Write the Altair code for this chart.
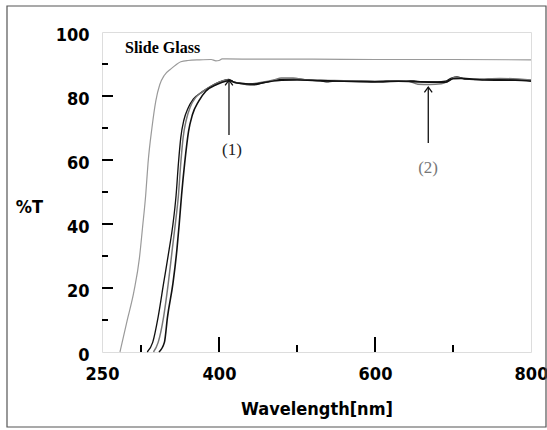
import altair as alt
import pandas as pd

# ---- data ----
slide_nm = [273, 282, 291, 298, 302, 306, 309, 314, 319, 324, 330, 338, 345, 351, 360, 375, 390, 396, 400, 404, 410, 450, 520, 600, 700, 800]
slide_T = [0, 9.6, 19, 29.4, 39, 49, 59, 70, 78.5, 83.5, 86.5, 88.4, 89.8, 90.7, 91.1, 91.3, 91.4, 91.0, 91.1, 91.6, 91.6, 91.5, 91.5, 91.4, 91.4, 91.3]

s1_nm = [308, 315, 322, 329, 336, 341, 345, 348, 351, 355, 360, 367, 378, 390, 400, 407, 412, 418, 425, 435, 445, 455, 465, 480, 500, 515, 530, 540, 550, 580, 600, 620, 650, 660, 680, 690, 698, 705, 715, 740, 770, 800]
s1_T = [0, 3, 11, 21.5, 31.9, 40, 49, 59, 67, 72.5, 76, 79, 81.2, 83.1, 84.3, 84.9, 85.2, 84.5, 84.0, 83.6, 83.5, 84.0, 84.6, 85.2, 85.3, 85.0, 84.7, 84.4, 84.7, 84.7, 84.5, 84.8, 84.7, 84.4, 84.4, 84.6, 85.6, 86.0, 85.3, 85.1, 85.2, 84.9]

s2_nm = [316, 322, 329, 335, 340, 344, 348, 351, 354, 358, 363, 370, 380, 392, 402, 410, 414, 420, 428, 440, 455, 470, 480, 495, 510, 530, 560, 600, 640, 655, 670, 685, 695, 702, 710, 730, 760, 800]
s2_T = [0, 3, 11, 21.5, 31.9, 40, 49, 59, 67, 72.5, 76.5, 79.5, 81.5, 83.3, 84.5, 85.0, 84.8, 84.3, 84.0, 83.8, 84.3, 85.0, 85.6, 85.6, 85.1, 84.9, 84.8, 84.6, 84.8, 83.7, 83.6, 83.8, 84.8, 85.8, 85.6, 85.3, 85.5, 85.0]

s3_nm = [323, 330, 334, 341, 346, 349, 352, 356, 361, 366, 374, 383, 397, 410, 415, 420, 430, 445, 460, 480, 500, 530, 560, 600, 630, 660, 690, 700, 710, 740, 780, 800]
s3_T = [0, 3, 11, 21.5, 31.9, 40, 49, 59, 69, 74.2, 78.4, 81.5, 83.6, 84.7, 84.8, 84.2, 83.9, 83.7, 84.3, 84.9, 85.0, 84.8, 84.6, 84.4, 84.6, 84.4, 84.3, 85.4, 85.5, 85.0, 84.9, 84.6]

series_names = ["Slide Glass", "S1", "S2", "S3"]
series_colors = ["#9a9a9a", "#111111", "#777777", "#111111"]
series_widths = [1.2, 1.6, 1.4, 1.6]

y_major_ticks = [20, 40, 60, 80]
y_minor_ticks = [10, 30, 50, 70, 90]
x_major_ticks = [400, 600]
x_minor_ticks = [300, 500, 700]
x_label_values = [250, 400, 600, 800]
y_label_values = [0, 20, 40, 60, 80, 100]

arrow_nm = [412.8, 668.3]
arrow_lo = [67.8, 65.3]
arrow_hi = [85.0, 82.8]
ann_text = ["(1)", "(2)"]
ann_nm = [416.7, 668.0]
ann_T = [63.1, 57.5]
ann_color = ["#222222", "#777777"]

SANS = "'DejaVu Sans Condensed', 'Liberation Sans Narrow', 'DejaVu Sans', sans-serif"

# ---- build tables ----
rows = []
for name, xs, ys in zip(series_names, [slide_nm, s1_nm, s2_nm, s3_nm], [slide_T, s1_T, s2_T, s3_T]):
    for i, (a, b) in enumerate(zip(xs, ys)):
        rows.append({"series": name, "nm": a, "T": b, "order": i})
df = pd.DataFrame(rows)

X = alt.X("nm:Q", scale=alt.Scale(domain=[250, 800], nice=False, zero=False),
          axis=alt.Axis(values=x_label_values, title="Wavelength[nm]", grid=False, domain=False,
                        ticks=False, tickSize=0, labelPadding=13, labelFontSize=18,
                        labelFont=SANS, labelFontWeight="bold", labelColor="#000",
                        labelFlush=False, labelOverlap=False,
                        titleFont=SANS, titleFontSize=18, titleFontWeight="bold",
                        titleColor="#000", titleY=57, titleBaseline="middle"))
Y = alt.Y("T:Q", scale=alt.Scale(domain=[0, 100], nice=False),
          axis=alt.Axis(values=y_label_values, title="%T", grid=False, domain=False, ticks=False,
                        tickSize=0, labelPadding=13, labelFontSize=18, labelOffset=3,
                        labelFont=SANS, labelFontWeight="bold", labelColor="#000",
                        labelFlush=False, labelOverlap=False,
                        titleFont=SANS, titleFontSize=18, titleFontWeight="bold",
                        titleColor="#000", titleAngle=0, titleX=-73, titleY=175,
                        titleAlign="center", titleBaseline="middle"))

lines = alt.Chart(df).mark_line(interpolate="monotone").encode(
    x=X, y=Y, order="order:Q",
    color=alt.Color("series:N", scale=alt.Scale(domain=series_names, range=series_colors), legend=None),
    strokeWidth=alt.StrokeWidth("series:N", scale=alt.Scale(domain=series_names, range=series_widths), legend=None),
)

def ticks_df(vals, kind):
    return pd.DataFrame({"v": vals, "kind": [kind] * len(vals)})

ytm = alt.Chart(ticks_df(y_major_ticks, "major")).mark_rule(color="#000", strokeWidth=2).encode(
    y="v:Q", x=alt.value(0), x2=alt.value(11))
ytn = alt.Chart(ticks_df(y_minor_ticks, "minor")).mark_rule(color="#000", strokeWidth=2).encode(
    y="v:Q", x=alt.value(0), x2=alt.value(6))
xtm = alt.Chart(ticks_df(x_major_ticks, "major")).mark_rule(color="#000", strokeWidth=2).encode(
    x="v:Q", y=alt.value(320), y2=alt.value(305))
xtn = alt.Chart(ticks_df(x_minor_ticks, "minor")).mark_rule(color="#000", strokeWidth=2).encode(
    x="v:Q", y=alt.value(320), y2=alt.value(313))

arr = pd.DataFrame({"nm": arrow_nm, "lo": arrow_lo, "hi": arrow_hi})
shafts = alt.Chart(arr).mark_rule(color="#111", strokeWidth=1.3).encode(x="nm:Q", y="lo:Q", y2="hi:Q")
heads = alt.Chart(arr).mark_point(shape="M-1,1.4L0,0L1,1.4", filled=False, color="#111",
                                  strokeWidth=1.3, size=60, opacity=1).encode(x="nm:Q", y="hi:Q")

ann = pd.DataFrame({"nm": ann_nm, "T": ann_T, "text": ann_text, "c": ann_color})
ann_txt = alt.Chart(ann).mark_text(font="Liberation Serif", fontSize=17, align="center",
                                   baseline="middle").encode(
    x="nm:Q", y="T:Q", text="text:N", color=alt.Color("c:N", scale=None))

label_df = pd.DataFrame({"nm": [279.5], "T": [95.0], "text": ["Slide Glass"]})
slide_label = alt.Chart(label_df).mark_text(font="Liberation Serif", fontSize=16, fontWeight="bold",
                                            align="left", baseline="middle", color="#000").encode(
    x="nm:Q", y="T:Q", text="text:N")

border = alt.Chart(label_df).mark_rect(fill=None, stroke="#555", strokeWidth=1.2).encode(
    x=alt.value(-95), x2=alt.value(444), y=alt.value(-26), y2=alt.value(395))

chart = alt.layer(border, lines, ytm, ytn, xtm, xtn, shafts, heads, ann_txt, slide_label).properties(
    width=429, height=320,
    padding={"left": 102, "top": 32, "right": 16, "bottom": 78},
    autosize=alt.AutoSizeParams(type="none"),
).configure_view(stroke="#000", strokeWidth=2).configure(background="white")

chart.save("out.html", embed_options={"renderer": "svg", "actions": False})
